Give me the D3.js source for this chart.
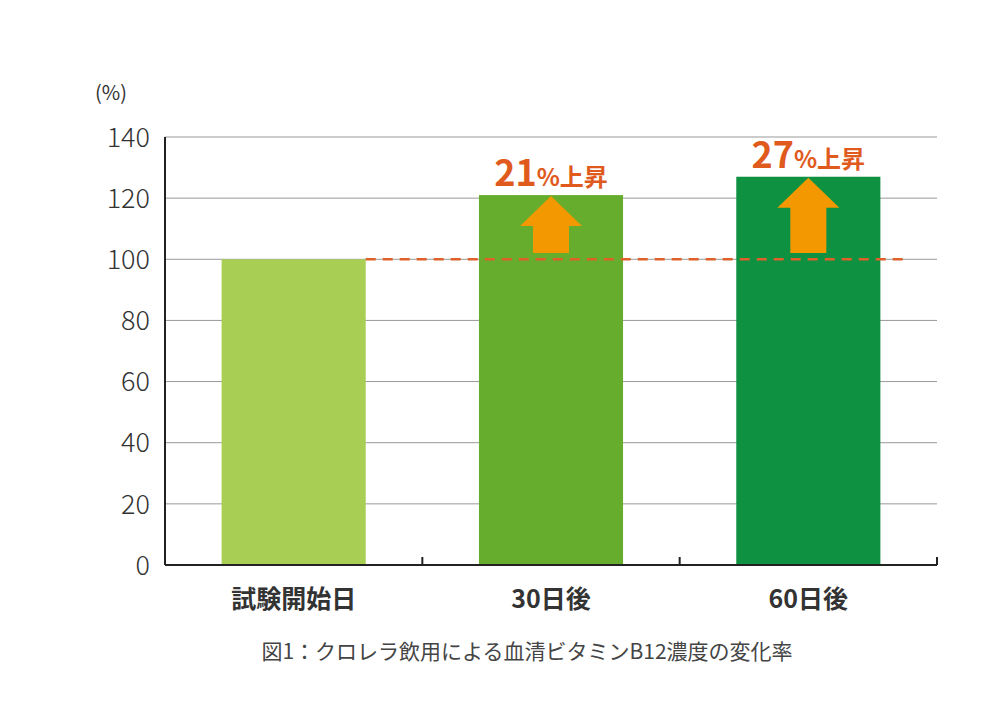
<!DOCTYPE html>
<html><head><meta charset="utf-8">
<script src="https://cdn.jsdelivr.net/npm/d3@7"></script>
<style>body{margin:0;background:#fff}</style></head>
<body><svg id="chart" width="1000" height="718"></svg>
<script>
const categories = ["試験開始日", "30日後", "60日後"];
const values = [100, 121, 127];
const barColors = ["#a8cf53", "#66ad2d", "#0e9140"];
const riseLabels = [null, "21", "27"];
const yTicks = [0, 20, 40, 60, 80, 100, 120, 140];

(function () {
const svg = d3.select("#chart");
const FONT = "'Noto Sans CJK JP', 'Noto Sans', sans-serif";
const plotL = 165, plotR = 937, plotT = 137, plotB = 565;

const x = d3.scaleBand().domain(categories).range([plotL, plotR]).paddingInner(0.44).paddingOuter(0.22);
const y = d3.scaleLinear().domain([0, 140]).range([plotB, plotT]);

// gridlines
svg.append("g").selectAll("line").data(yTicks.filter(t => t > 0)).join("line")
  .attr("x1", plotL).attr("x2", plotR).attr("y1", d => y(d)).attr("y2", d => y(d))
  .attr("stroke", "#999").attr("stroke-width", 1);

// y labels
svg.append("g").selectAll("text").data(yTicks).join("text")
  .attr("x", 150).attr("y", d => y(d)).attr("dy", "0.36em").attr("text-anchor", "end")
  .attr("font-family", FONT).attr("font-size", 27).attr("font-weight", 300).attr("fill", "#333")
  .text(d => d);
svg.append("text").attr("x", 95).attr("y", 100).attr("font-family", FONT).attr("font-size", 20)
  .attr("fill", "#333").text("(%)");

// bars
svg.append("g").selectAll("rect").data(values).join("rect")
  .attr("x", (d, i) => x(categories[i])).attr("width", x.bandwidth())
  .attr("y", d => y(d)).attr("height", d => y(0) - y(d))
  .attr("fill", (d, i) => barColors[i]);

// axes
svg.append("line").attr("x1", plotL).attr("x2", plotL).attr("y1", plotT).attr("y2", plotB).attr("stroke", "#222").attr("stroke-width", 2);
svg.append("line").attr("x1", plotL).attr("x2", plotR).attr("y1", plotB).attr("y2", plotB).attr("stroke", "#222").attr("stroke-width", 2);
svg.append("g").selectAll("line").data([1, 2, 3]).join("line")
  .attr("x1", i => plotL + (plotR - plotL) * i / 3).attr("x2", i => plotL + (plotR - plotL) * i / 3)
  .attr("y1", plotB - 8).attr("y2", plotB).attr("stroke", "#222").attr("stroke-width", 2);

// dashed baseline
svg.append("line").attr("x1", x(categories[0]) + x.bandwidth()).attr("x2", 903)
  .attr("y1", y(100)).attr("y2", y(100))
  .attr("stroke", "#e0602a").attr("stroke-width", 2.5).attr("stroke-dasharray", "10,7");

// category labels
svg.append("g").selectAll("text").data(categories).join("text")
  .attr("x", d => x(d) + x.bandwidth() / 2).attr("y", 608).attr("text-anchor", "middle")
  .attr("font-family", FONT).attr("font-size", 25).attr("font-weight", 700).attr("fill", "#333")
  .text(d => d);

// arrows + labels
values.forEach((v, i) => {
  if (!riseLabels[i]) return;
  const cx = x(categories[i]) + x.bandwidth() / 2;
  const tip = y(v) + 1, base = 253, head = tip + 30;
  svg.append("path")
    .attr("d", `M${cx},${tip} L${cx + 31},${head} L${cx + 18},${head} L${cx + 18},${base} L${cx - 18},${base} L${cx - 18},${head} L${cx - 31},${head} Z`)
    .attr("fill", "#f39800");
  const t = svg.append("text").attr("x", cx).attr("y", y(v) - 9).attr("text-anchor", "middle")
    .attr("font-family", FONT).attr("font-weight", 700).attr("fill", "#e05a1e");
  t.append("tspan").attr("font-size", 36).text(riseLabels[i]);
  t.append("tspan").attr("font-size", 24).text("%上昇");
});

// caption
svg.append("text").attr("x", 527).attr("y", 659).attr("text-anchor", "middle")
  .attr("font-family", FONT).attr("font-size", 21).attr("fill", "#444")
  .text("図1：クロレラ飲用による血清ビタミンB12濃度の変化率");
})();
</script></body></html>
